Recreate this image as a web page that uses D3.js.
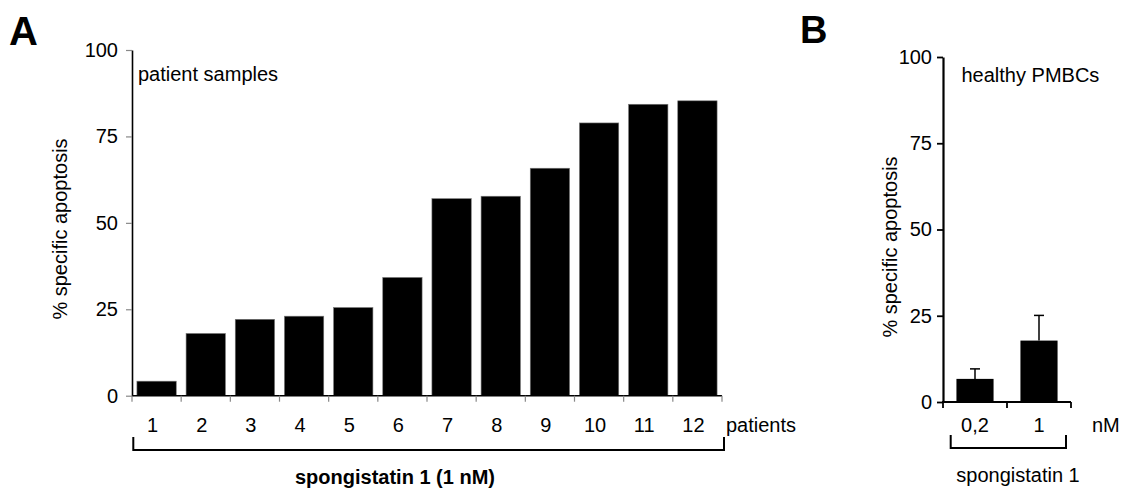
<!DOCTYPE html>
<html>
<head>
<meta charset="utf-8">
<script src="https://cdn.jsdelivr.net/npm/d3@7/dist/d3.min.js"></script>
<style>
  html, body { margin: 0; padding: 0; background: #fff; }
  svg { display: block; font-family: "Liberation Sans", Arial, sans-serif; }
</style>
</head>
<body>
<svg id="fig" width="1122" height="488"></svg>
<script>
// Panel A: specific apoptosis per patient sample (spongistatin 1, 1 nM)
const patients = ["1", "2", "3", "4", "5", "6", "7", "8", "9", "10", "11", "12"];
const patientApoptosis = [4.2, 18.0, 22.1, 23.0, 25.5, 34.2, 57.0, 57.7, 65.8, 78.9, 84.3, 85.3];

// Panel B: healthy PBMCs, two doses, mean with upper error
const doses = ["0,2", "1"];
const pbmcMean = [6.7, 17.8];
const pbmcErr = [2.9, 7.3];

const yTicks = [0, 25, 50, 75, 100];

const svg = d3.select("#fig");
const FS = 20;

// ---------- Panel A ----------
const ax = { left: 132, right: 722, top: 50, bottom: 395.7 };
const xA = d3.scaleBand().domain(patients).range([ax.left, ax.right]).paddingInner(0.2).paddingOuter(0.1);
const yA = d3.scaleLinear().domain([0, 100]).range([ax.bottom, ax.top]);

const gA = svg.append("g");

gA.selectAll("rect.bar").data(patientApoptosis).join("rect")
  .attr("class", "bar")
  .attr("x", (d, i) => xA(patients[i]))
  .attr("width", xA.bandwidth())
  .attr("y", d => yA(d))
  .attr("height", d => yA(0) - yA(d))
  .attr("fill", "#000")
  .attr("stroke", "#777").attr("stroke-width", 0.6);

// y axis
const yAxisA = gA.append("g").attr("transform", `translate(${ax.left},0)`)
  .call(d3.axisLeft(yA).tickValues(yTicks).tickSize(6).tickPadding(8).tickSizeOuter(0));
yAxisA.select(".domain").attr("stroke", "#000").attr("stroke-width", 1.6);
yAxisA.selectAll(".tick line").attr("stroke", "#888").attr("stroke-width", 1.2);
yAxisA.selectAll(".tick text").attr("font-size", FS).attr("font-family", "Liberation Sans, Arial, sans-serif").attr("fill", "#000");

// x axis line and category boundary ticks
gA.append("line").attr("x1", ax.left).attr("x2", ax.right).attr("y1", yA(0)).attr("y2", yA(0))
  .attr("stroke", "#000").attr("stroke-width", 1.6);
const boundsA = d3.range(patients.length + 1).map(i => xA.range()[0] + i * xA.step());
gA.selectAll("line.xt").data(boundsA).join("line")
  .attr("class", "xt")
  .attr("x1", d => d).attr("x2", d => d)
  .attr("y1", yA(0)).attr("y2", yA(0) + 6)
  .attr("stroke", "#888").attr("stroke-width", 1.2);

gA.selectAll("text.xl").data(patients).join("text")
  .attr("class", "xl")
  .attr("x", d => xA(d) + xA.bandwidth() / 2 - 4)
  .attr("y", 431.5)
  .attr("text-anchor", "middle")
  .attr("font-size", FS)
  .text(d => d);

gA.append("text").attr("x", 726).attr("y", 431.5).attr("font-size", FS).text("patients");

// bracket under categories
gA.append("path")
  .attr("d", `M${ax.left + 1.3},437 V450 H724 V437`)
  .attr("fill", "none").attr("stroke", "#000").attr("stroke-width", 2);
gA.append("text").attr("x", 395).attr("y", 484).attr("text-anchor", "middle")
  .attr("font-size", FS).attr("font-weight", "bold").text("spongistatin 1 (1 nM)");

gA.append("text").attr("x", 138).attr("y", 81).attr("font-size", FS).text("patient samples");
gA.append("text").attr("transform", "translate(67,229) rotate(-90)")
  .attr("text-anchor", "middle").attr("font-size", FS).text("% specific apoptosis");
gA.append("text").attr("x", 9).attr("y", 45).attr("font-size", 40).attr("font-weight", "bold").text("A");

// ---------- Panel B ----------
const bx = { left: 943, right: 1071, top: 57, bottom: 402 };
const xB = d3.scaleBand().domain(doses).range([bx.left, bx.right]).paddingInner(0.42).paddingOuter(0.21);
const yB = d3.scaleLinear().domain([0, 100]).range([bx.bottom, bx.top]);

const gB = svg.append("g");

gB.selectAll("rect.bar").data(pbmcMean).join("rect")
  .attr("class", "bar")
  .attr("x", (d, i) => xB(doses[i]))
  .attr("width", xB.bandwidth())
  .attr("y", d => yB(d))
  .attr("height", d => yB(0) - yB(d))
  .attr("fill", "#000");

// upper error bars
const errG = gB.selectAll("g.err").data(pbmcMean.map((m, i) => ({ m, e: pbmcErr[i], c: doses[i] })))
  .join("g").attr("class", "err");
errG.append("line")
  .attr("x1", d => xB(d.c) + xB.bandwidth() / 2).attr("x2", d => xB(d.c) + xB.bandwidth() / 2)
  .attr("y1", d => yB(d.m)).attr("y2", d => yB(d.m + d.e))
  .attr("stroke", "#000").attr("stroke-width", 1.5);
errG.append("line")
  .attr("x1", d => xB(d.c) + xB.bandwidth() / 2 - 5).attr("x2", d => xB(d.c) + xB.bandwidth() / 2 + 5)
  .attr("y1", d => yB(d.m + d.e)).attr("y2", d => yB(d.m + d.e))
  .attr("stroke", "#000").attr("stroke-width", 1.5);

const yAxisB = gB.append("g").attr("transform", `translate(${bx.left},0)`)
  .call(d3.axisLeft(yB).tickValues(yTicks).tickSize(6).tickPadding(5).tickSizeOuter(0));
yAxisB.select(".domain").attr("stroke", "#000").attr("stroke-width", 2.2);
yAxisB.selectAll(".tick line").attr("stroke", "#000").attr("stroke-width", 1.8);
yAxisB.selectAll(".tick text").attr("font-size", FS).attr("font-family", "Liberation Sans, Arial, sans-serif").attr("fill", "#000");

gB.append("line").attr("x1", bx.left - 1).attr("x2", bx.right).attr("y1", yB(0)).attr("y2", yB(0))
  .attr("stroke", "#000").attr("stroke-width", 2.2);
const boundsB = d3.range(doses.length + 1).map(i => xB.range()[0] + i * xB.step());
gB.selectAll("line.xt").data(boundsB).join("line")
  .attr("class", "xt")
  .attr("x1", d => d).attr("x2", d => d)
  .attr("y1", yB(0)).attr("y2", yB(0) + 6)
  .attr("stroke", "#000").attr("stroke-width", 1.8);

gB.selectAll("text.xl").data(doses).join("text")
  .attr("class", "xl")
  .attr("x", d => xB(d) + xB.bandwidth() / 2)
  .attr("y", 431.5)
  .attr("text-anchor", "middle")
  .attr("font-size", FS)
  .text(d => d);
gB.append("text").attr("x", 1092).attr("y", 431.5).attr("font-size", FS).text("nM");

gB.append("path")
  .attr("d", "M950.7,435 V448 H1066 V435")
  .attr("fill", "none").attr("stroke", "#000").attr("stroke-width", 2);
gB.append("text").attr("x", 1018).attr("y", 481.5).attr("text-anchor", "middle")
  .attr("font-size", FS).text("spongistatin 1");

gB.append("text").attr("x", 961.5).attr("y", 82).attr("font-size", FS).text("healthy PMBCs");
gB.append("text").attr("transform", "translate(897,247) rotate(-90)")
  .attr("text-anchor", "middle").attr("font-size", FS).text("% specific apoptosis");
gB.append("text").attr("x", 800).attr("y", 43).attr("font-size", 38).attr("font-weight", "bold").text("B");
</script>
</body>
</html>
